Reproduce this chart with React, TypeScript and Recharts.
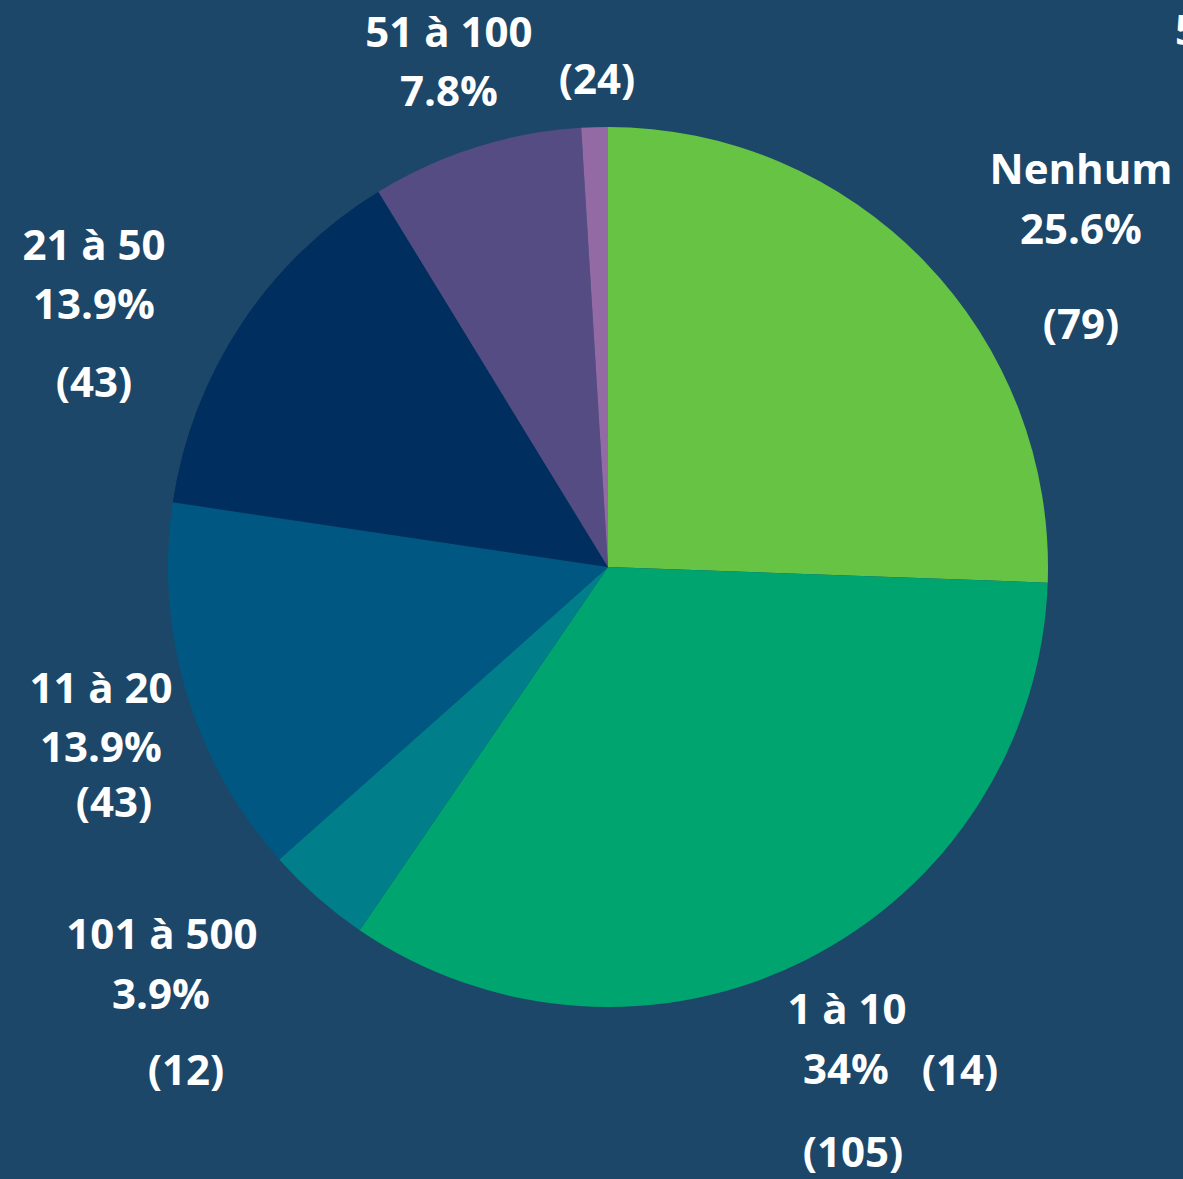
import React from 'react';
import { PieChart, Pie, Cell } from 'recharts';

const categories = ['Nenhum', '1 à 10', '101 à 500', '11 à 20', '21 à 50', '51 à 100', '501 ou mais'];
const counts = [79, 105, 12, 43, 43, 24, 3];
const percentLabels = ['25.6%', '34%', '3.9%', '13.9%', '13.9%', '7.8%', '1%'];
const countLabels = ['(79)', '(105)', '(12)', '(43)', '(43)', '(24)', '(14)'];

const colors = ['#66c343', '#00a46e', '#007f8b', '#005882', '#002e5e', '#564c84', '#936aa3'];

const data = categories.map((name, i) => ({ name, value: counts[i] }));

// label line offsets relative to pie centre: [name, percent, count]
const layout: { x: number; y: number; anchor?: string }[][] = [
  [{ x: 473, y: -400 }, { x: 473, y: -340 }, { x: 473, y: -245 }],
  [{ x: 239, y: 440 }, { x: 238, y: 500 }, { x: 245, y: 583 }],
  [{ x: -446, y: 365 }, { x: -447, y: 425 }, { x: -422, y: 501 }],
  [{ x: -507, y: 119 }, { x: -507, y: 178 }, { x: -494, y: 233 }],
  [{ x: -514, y: -324 }, { x: -514, y: -265 }, { x: -514, y: -187 }],
  [{ x: -159, y: -537 }, { x: -159, y: -478 }, { x: -11, y: -490 }],
  [{ x: 567, y: -539, anchor: 'start' }, null as any, { x: 352, y: 501 }],
];

const textStyle = {
  fill: '#ffffff',
  fontFamily: '"Open Sans", sans-serif',
  fontWeight: 700,
  fontSize: 42,
};

const renderLabel = (props: any) => {
  const { cx, cy, index } = props;
  const lines = layout[index];
  const texts = [categories[index], percentLabels[index], countLabels[index]];
  return (
    <g key={`lbl-${index}`}>
      {lines.map((l, j) =>
        l ? (
          <text
            key={j}
            x={cx + l.x}
            y={cy + l.y}
            textAnchor={(l.anchor as any) || 'middle'}
            dominantBaseline="central"
            style={textStyle}
          >
            {texts[j]}
          </text>
        ) : null
      )}
    </g>
  );
};

export default function App() {
  return (
    <div style={{ position: 'absolute', left: 0, top: 0, width: 1183, height: 1179, background: '#1c4769', overflow: 'hidden' }}>
      <PieChart width={1183} height={1179} margin={{ top: 0, right: 0, bottom: 0, left: 0 }}>
        <Pie
          data={data}
          dataKey="value"
          nameKey="name"
          cx={608}
          cy={567}
          outerRadius={440}
          startAngle={90}
          endAngle={-270}
          stroke="none"
          label={renderLabel}
          labelLine={false}
          isAnimationActive={false}
        >
          {data.map((d, i) => (
            <Cell key={d.name} fill={colors[i]} />
          ))}
        </Pie>
      </PieChart>
    </div>
  );
}
